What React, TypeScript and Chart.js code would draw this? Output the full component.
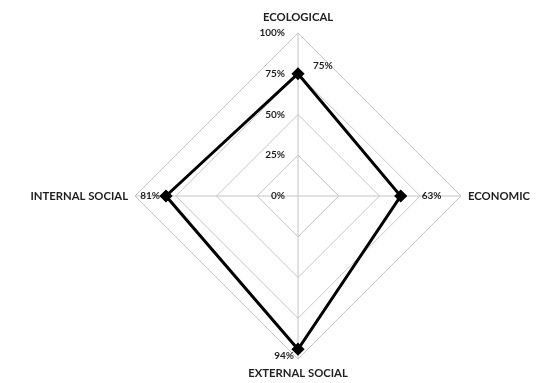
import React, { useEffect, useRef } from "react";
import { Chart, registerables } from "chart.js";

Chart.register(...registerables);

const categories = ["ECOLOGICAL", "ECONOMIC", "EXTERNAL SOCIAL", "INTERNAL SOCIAL"];
const values = [75, 63, 94, 81];
const valueLabels = ["75%", "63%", "94%", "81%"];
const tickValues = [0, 25, 50, 75, 100];
const tickLabels = ["0%", "25%", "50%", "75%", "100%"];

const labelPlugin = {
  id: "customLabels",
  afterDraw(chart: any) {
    const scale = chart.scales.r;
    const ctx = chart.ctx;
    const xc = scale.xCenter;
    const yc = scale.yCenter;
    const r = scale.getDistanceFromCenterForValue(100);
    ctx.save();
    ctx.fillStyle = "#1f1f1f";
    // tick labels
    ctx.font = "bold 10px Lato";
    ctx.textAlign = "right";
    ctx.textBaseline = "middle";
    tickValues.forEach((v, i) => {
      const d = scale.getDistanceFromCenterForValue(v);
      ctx.fillText(tickLabels[i], xc - 13, yc - d);
    });
    // category labels
    ctx.font = "bold 11.3px Lato";
    ctx.textAlign = "center";
    ctx.fillText(categories[0], xc, yc - r - 16);
    ctx.fillText(categories[2], xc, yc + r + 14);
    ctx.textAlign = "left";
    ctx.fillText(categories[1], xc + r + 7, yc);
    ctx.textAlign = "right";
    ctx.fillText(categories[3], xc - r - 7, yc);
    // data labels
    ctx.font = "bold 10px Lato";
    const offs = [
      { dx: 15, dy: -8, align: "left" },
      { dx: 21, dy: 0, align: "left" },
      { dx: -4, dy: 7, align: "right" },
      { dx: -6, dy: 0, align: "right" },
    ];
    values.forEach((v, i) => {
      const p = scale.getPointPositionForValue(i, v);
      ctx.textAlign = offs[i].align;
      ctx.fillText(valueLabels[i], p.x + offs[i].dx, p.y + offs[i].dy);
    });
    ctx.restore();
  },
};

export default function App() {
  const ref = useRef<HTMLCanvasElement>(null);
  useEffect(() => {
    const chart = new Chart(ref.current as HTMLCanvasElement, {
      type: "radar",
      data: {
        labels: categories,
        datasets: [
          {
            data: values,
            borderColor: "#000000",
            backgroundColor: "rgba(0,0,0,0)",
            borderWidth: 3,
            pointStyle: "rectRot",
            pointRadius: 4.5,
            pointBackgroundColor: "#000000",
            pointBorderColor: "#000000",
            fill: false,
          },
        ],
      },
      options: {
        animation: false,
        responsive: false,
        maintainAspectRatio: false,
        layout: { padding: { left: 135, right: 93, top: 33, bottom: 24 } },
        plugins: { legend: { display: false }, tooltip: { enabled: false } },
        scales: {
          r: {
            min: 0,
            max: 100,
            ticks: { stepSize: 25, display: false },
            pointLabels: { display: false },
            grid: { color: "#c4c4c4", lineWidth: 1 },
            angleLines: { color: "#c4c4c4", lineWidth: 1 },
          },
        },
      },
      plugins: [labelPlugin],
    });
    return () => chart.destroy();
  }, []);
  return (
    <div style={{ position: "fixed", left: 0, top: 0, width: 554, height: 383, background: "#fff" }}>
      <canvas ref={ref} width={554} height={383} style={{ width: 554, height: 383 }} />
    </div>
  );
}
